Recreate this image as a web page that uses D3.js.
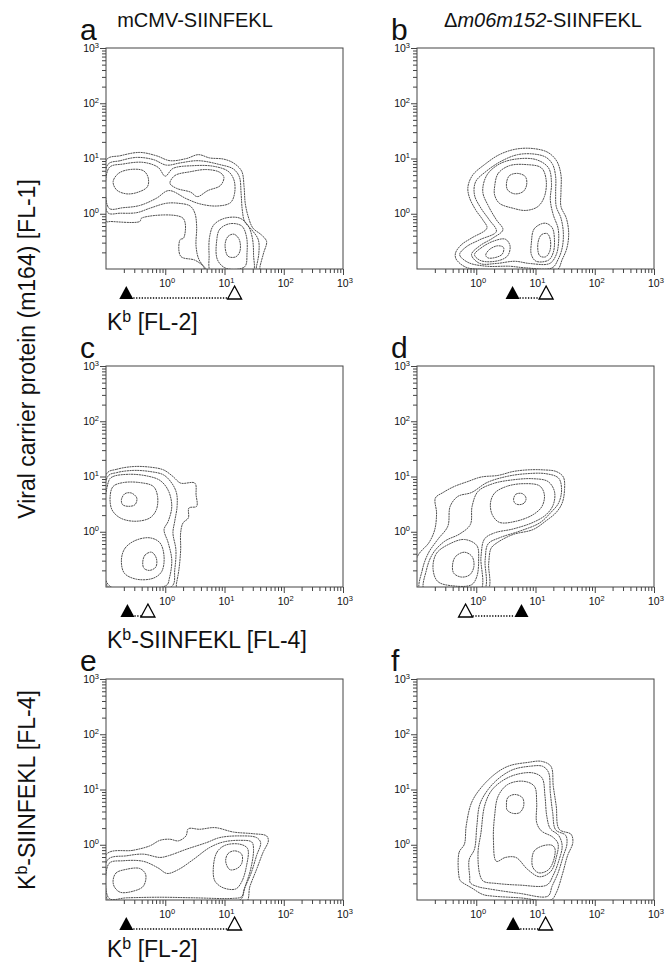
<!DOCTYPE html>
<html lang="en">
<head>
<meta charset="UTF-8">
<title>Kb / Kb-SIINFEKL contour plots</title>
<script src="https://d3js.org/d3.v7.min.js"></script>
<style>
  body { margin: 0; background: #fff; }
  svg text { font-family: "Liberation Sans", Arial, Helvetica, sans-serif; fill: #111; }
</style>
</head>
<body>
<svg id="chart" width="669" height="968"></svg>
<script>
// ---- data (contour rings as [log10 x, log10 y]) ----
const panelLetters = ["a", "b", "c", "d", "e", "f"];
const decadeValues = [1, 10, 100, 1000];
const decadeExponents = ["0", "1", "2", "3"];

// median intensity of the two populations on the x axis (filled / open triangle)
const filledMarker = [0.22, 4.1, 0.23, 5.8, 0.22, 4.2];
const openMarker = [14.8, 15.1, 0.51, 0.66, 14.8, 14.8];

const contoursA = [
  [[-0.99,0.98],[-0.76,1.05],[-0.43,1.11],[-0.15,1.05],[0.08,0.96],[0.36,1.00],[0.56,1.07],[0.75,1.01],[0.98,0.99],[1.15,0.92],[1.29,0.77],[1.33,0.49],[1.35,0.19],[1.40,-0.05],[1.48,-0.26],[1.62,-0.38],[1.71,-0.50],[1.66,-0.71],[1.60,-0.95],[1.58,-1.07],[0.70,-1.07],[0.64,-0.95],[0.50,-0.84],[0.26,-0.77],[0.25,-0.47],[0.31,-0.44],[0.30,-0.08],[-0.40,-0.08],[-0.43,-0.14],[-0.93,-0.14],[-0.99,-0.14]],
  [[-0.97,0.89],[-0.76,0.96],[-0.48,1.02],[-0.20,0.98],[0.02,0.88],[0.25,0.92],[0.56,0.96],[0.92,0.89],[1.15,0.81],[1.25,0.67],[1.28,0.37],[1.30,0.07],[1.34,-0.14],[1.46,-0.29],[1.57,-0.47],[1.58,-0.71],[1.54,-0.95],[1.51,-1.07],[0.75,-1.07],[0.69,-1.0],[0.57,-0.83],[0.52,-0.59],[0.53,-0.23],[0.50,0.01],[0.42,0.14],[0.22,0.19],[0.02,0.19],[-0.26,0.10],[-0.48,0.02],[-0.76,0.01],[-0.97,0.02]],
  [[-0.95,0.83],[-0.71,0.90],[-0.37,0.93],[-0.12,0.84],[0.00,0.68],[0.13,0.82],[0.47,0.87],[0.81,0.86],[1.06,0.77],[1.16,0.61],[1.17,0.37],[1.10,0.20],[0.87,0.14],[0.58,0.18],[0.36,0.27],[0.06,0.42],[-0.15,0.28],[-0.43,0.15],[-0.71,0.11],[-0.95,0.10]],
  [[0.75,-0.41],[0.82,-0.20],[1.01,-0.08],[1.26,-0.08],[1.40,-0.22],[1.47,-0.44],[1.49,-0.74],[1.47,-1.07],[0.78,-1.07],[0.74,-0.74]],
  [[0.87,-0.47],[0.92,-0.28],[1.09,-0.18],[1.29,-0.22],[1.37,-0.41],[1.38,-0.71],[1.34,-0.96],[1.03,-0.99],[0.88,-0.83]],
  [[1.01,-0.56],[1.06,-0.41],[1.16,-0.37],[1.25,-0.47],[1.26,-0.68],[1.19,-0.78],[1.06,-0.77]],
  [[-0.88,0.58],[-0.79,0.73],[-0.60,0.80],[-0.37,0.78],[-0.29,0.66],[-0.30,0.49],[-0.46,0.39],[-0.65,0.36],[-0.82,0.43]],
  [[0.08,0.55],[0.16,0.69],[0.42,0.76],[0.70,0.80],[0.92,0.75],[0.99,0.66],[0.93,0.51],[0.72,0.42],[0.54,0.31],[0.43,0.39],[0.19,0.46]]
];

const contoursB = [
  [[-0.35,-0.71],[-0.25,-0.56],[-0.08,-0.44],[0.18,-0.26],[0.11,-0.11],[-0.01,0.07],[-0.12,0.31],[-0.14,0.49],[-0.06,0.70],[0.14,0.89],[0.39,1.07],[0.67,1.17],[0.96,1.18],[1.21,1.11],[1.36,0.95],[1.43,0.70],[1.43,0.40],[1.43,0.13],[1.52,-0.08],[1.56,-0.35],[1.53,-0.62],[1.45,-0.83],[1.36,-1.02],[0.73,-1.04],[0.22,-1.01],[-0.17,-0.97],[-0.34,-0.82]],
  [[-0.28,-0.74],[-0.17,-0.60],[0.06,-0.47],[0.34,-0.32],[0.22,-0.11],[0.08,0.10],[-0.03,0.34],[-0.01,0.58],[0.17,0.77],[0.42,0.95],[0.70,1.07],[0.98,1.08],[1.18,1.02],[1.29,0.89],[1.34,0.67],[1.34,0.37],[1.35,0.13],[1.43,-0.08],[1.47,-0.35],[1.45,-0.62],[1.38,-0.83],[1.28,-0.98],[0.84,-0.98],[0.56,-0.95],[0.17,-0.95],[-0.14,-0.88]],
  [[-0.08,-0.74],[0.06,-0.58],[0.28,-0.44],[0.45,-0.29],[0.34,-0.11],[0.21,0.13],[0.11,0.40],[0.18,0.70],[0.39,0.90],[0.67,0.99],[1.01,0.98],[1.22,0.83],[1.27,0.55],[1.25,0.25],[1.30,-0.02],[1.38,-0.26],[1.39,-0.50],[1.35,-0.74],[1.24,-0.90],[0.90,-0.90],[0.65,-0.86],[0.34,-0.90],[0.06,-0.90]],
  [[0.31,0.49],[0.37,0.73],[0.56,0.87],[0.84,0.89],[1.10,0.83],[1.18,0.61],[1.15,0.31],[1.04,0.13],[0.84,0.06],[0.62,0.10],[0.39,0.19],[0.31,0.34]],
  [[0.51,0.55],[0.56,0.69],[0.70,0.73],[0.83,0.67],[0.85,0.52],[0.79,0.40],[0.65,0.36],[0.53,0.43]],
  [[0.93,-0.53],[0.98,-0.27],[1.16,-0.17],[1.28,-0.25],[1.32,-0.47],[1.30,-0.70],[1.22,-0.84],[1.01,-0.86],[0.93,-0.74]],
  [[1.04,-0.54],[1.10,-0.38],[1.20,-0.36],[1.25,-0.47],[1.24,-0.68],[1.17,-0.78],[1.07,-0.76]],
  [[-0.03,-0.74],[0.08,-0.62],[0.28,-0.50],[0.49,-0.46],[0.57,-0.58],[0.53,-0.76],[0.37,-0.85],[0.08,-0.85]],
  [[0.16,-0.75],[0.22,-0.65],[0.36,-0.58],[0.46,-0.61],[0.44,-0.73],[0.33,-0.79],[0.20,-0.80]]
];

const contoursC = [
  [[-0.99,1.05],[-0.82,1.13],[-0.54,1.18],[-0.26,1.17],[-0.03,1.12],[0.13,1.00],[0.26,0.88],[0.50,0.88],[0.52,0.67],[0.53,0.46],[0.40,0.43],[0.39,0.25],[0.30,0.16],[0.26,-0.02],[0.26,-0.33],[0.23,-0.69],[0.19,-0.93],[0.16,-1.08],[-0.99,-1.08]],
  [[-0.97,1.0],[-0.82,1.07],[-0.54,1.11],[-0.26,1.09],[-0.03,1.03],[0.11,0.88],[0.19,0.70],[0.20,0.46],[0.16,0.19],[0.13,-0.02],[0.18,-0.33],[0.16,-0.69],[0.11,-0.99],[-0.97,-0.99]],
  [[-0.95,0.93],[-0.88,1.00],[-0.60,1.04],[-0.31,1.01],[-0.09,0.93],[0.05,0.75],[0.11,0.46],[0.05,0.19],[-0.02,0.04],[0.05,-0.20],[0.11,-0.51],[0.07,-0.84],[0.02,-0.97],[-0.95,-0.97]],
  [[-0.93,0.64],[-0.88,0.82],[-0.71,0.89],[-0.43,0.89],[-0.20,0.82],[-0.13,0.64],[-0.15,0.40],[-0.26,0.25],[-0.51,0.19],[-0.76,0.25],[-0.90,0.40]],
  [[-0.74,0.58],[-0.68,0.69],[-0.57,0.70],[-0.48,0.61],[-0.51,0.49],[-0.62,0.46],[-0.72,0.49]],
  [[-0.74,-0.51],[-0.68,-0.30],[-0.51,-0.16],[-0.26,-0.11],[-0.09,-0.20],[-0.02,-0.45],[-0.06,-0.72],[-0.20,-0.84],[-0.48,-0.86],[-0.69,-0.75]],
  [[-0.38,-0.55],[-0.34,-0.42],[-0.23,-0.37],[-0.15,-0.48],[-0.16,-0.64],[-0.27,-0.70],[-0.36,-0.66]]
];

const contoursD = [
  [[-1.04,-0.57],[-0.96,-0.39],[-0.80,-0.20],[-0.70,0.04],[-0.67,0.34],[-0.69,0.61],[-0.56,0.71],[-0.37,0.82],[-0.14,0.91],[0.08,0.99],[0.37,1.02],[0.62,1.09],[0.87,1.12],[1.13,1.12],[1.35,1.09],[1.47,0.99],[1.49,0.76],[1.45,0.52],[1.35,0.35],[1.18,0.20],[0.96,0.04],[0.62,-0.05],[0.35,-0.20],[0.25,-0.30],[0.21,-0.57],[0.18,-1.08],[-1.04,-1.08]],
  [[-0.94,-1.08],[-0.91,-0.69],[-0.81,-0.39],[-0.65,-0.14],[-0.48,0.10],[-0.44,0.46],[-0.31,0.64],[-0.08,0.71],[0.18,0.89],[0.51,1.0],[0.84,1.05],[1.18,1.05],[1.39,0.97],[1.44,0.76],[1.39,0.52],[1.26,0.35],[1.07,0.16],[0.73,0.01],[0.39,-0.11],[0.20,-0.22],[0.15,-0.51],[0.12,-1.08]],
  [[-0.87,-1.08],[-0.84,-0.69],[-0.73,-0.39],[-0.53,-0.17],[-0.28,-0.04],[-0.10,0.13],[-0.07,0.46],[0.03,0.73],[0.28,0.87],[0.62,0.94],[0.96,0.96],[1.21,0.91],[1.32,0.73],[1.30,0.49],[1.18,0.31],[0.96,0.17],[0.62,0.05],[0.31,-0.02],[0.14,-0.13],[0.08,-0.45],[0.06,-1.08]],
  [[0.24,0.52],[0.31,0.70],[0.51,0.82],[0.79,0.87],[1.07,0.83],[1.15,0.67],[1.11,0.46],[0.96,0.31],[0.67,0.19],[0.39,0.17],[0.27,0.31]],
  [[0.63,0.59],[0.67,0.68],[0.78,0.69],[0.84,0.61],[0.81,0.52],[0.72,0.49],[0.65,0.52]],
  [[-0.73,-0.66],[-0.67,-0.39],[-0.45,-0.22],[-0.20,-0.14],[0.01,-0.25],[0.04,-0.51],[0.01,-0.81],[-0.08,-0.96],[-0.39,-0.98],[-0.65,-0.90]],
  [[-0.40,-0.60],[-0.35,-0.45],[-0.20,-0.37],[-0.07,-0.45],[-0.04,-0.63],[-0.11,-0.78],[-0.25,-0.82],[-0.38,-0.75]]
];

const contoursE = [
  [[-0.99,-0.17],[-0.54,-0.10],[-0.26,-0.02],[-0.09,0.08],[0.08,0.10],[0.22,0.07],[0.35,0.16],[0.39,0.29],[0.58,0.28],[0.84,0.31],[1.15,0.23],[1.48,0.20],[1.71,0.16],[1.74,0.07],[1.65,-0.14],[1.54,-0.45],[1.43,-0.75],[1.34,-1.08],[-0.99,-1.08]],
  [[-0.97,-0.27],[-0.65,-0.20],[-0.37,-0.17],[-0.09,-0.23],[0.05,-0.20],[0.36,-0.08],[0.70,0.04],[0.92,0.13],[1.26,0.16],[1.54,0.13],[1.61,0.04],[1.54,-0.20],[1.45,-0.51],[1.33,-0.81],[1.27,-0.99],[-0.97,-0.99]],
  [[-0.95,-0.34],[-0.71,-0.29],[-0.37,-0.30],[-0.12,-0.42],[0.03,-0.52],[0.22,-0.45],[0.47,-0.27],[0.75,-0.05],[0.98,0.05],[1.26,0.08],[1.46,0.05],[1.49,-0.08],[1.44,-0.45],[1.35,-0.75],[1.29,-0.94],[1.15,-0.97],[0.47,-0.96],[-0.09,-0.95],[-0.65,-0.96],[-0.95,-0.97]],
  [[-0.88,-0.64],[-0.83,-0.51],[-0.68,-0.45],[-0.43,-0.43],[-0.33,-0.54],[-0.37,-0.75],[-0.54,-0.84],[-0.76,-0.86],[-0.86,-0.76]],
  [[0.81,-0.45],[0.87,-0.14],[1.01,-0.01],[1.26,0.01],[1.39,-0.07],[1.37,-0.39],[1.29,-0.67],[1.19,-0.80],[0.98,-0.78],[0.84,-0.66]],
  [[1.02,-0.30],[1.06,-0.16],[1.17,-0.11],[1.29,-0.17],[1.29,-0.34],[1.21,-0.43],[1.09,-0.45]]
];

const contoursF = [
  [[-0.28,-0.63],[-0.29,-0.14],[-0.20,0.01],[-0.17,0.34],[-0.08,0.76],[0.08,1.03],[0.34,1.30],[0.56,1.43],[0.87,1.49],[1.10,1.51],[1.26,1.42],[1.30,1.06],[1.35,0.70],[1.40,0.28],[1.60,0.19],[1.63,0.04],[1.54,-0.20],[1.46,-0.51],[1.35,-0.87],[1.26,-1.00],[0.73,-0.96],[0.28,-0.93],[0.11,-0.90],[-0.08,-0.78],[-0.25,-0.67]],
  [[-0.11,-0.58],[-0.12,-0.27],[-0.03,-0.08],[0.01,0.34],[0.06,0.73],[0.20,1.0],[0.39,1.21],[0.62,1.36],[0.90,1.42],[1.12,1.42],[1.22,1.31],[1.25,0.94],[1.29,0.58],[1.34,0.27],[1.51,0.17],[1.53,0.01],[1.47,-0.20],[1.38,-0.51],[1.28,-0.75],[1.21,-0.93],[0.73,-0.88],[0.22,-0.80],[0.03,-0.76],[-0.10,-0.69]],
  [[0.06,-0.54],[0.03,-0.14],[0.08,0.22],[0.14,0.70],[0.25,0.97],[0.43,1.15],[0.67,1.27],[0.96,1.30],[1.11,1.21],[1.16,0.88],[1.19,0.52],[1.25,0.29],[1.39,0.17],[1.45,-0.02],[1.39,-0.30],[1.30,-0.55],[1.19,-0.73],[0.73,-0.73],[0.34,-0.70],[0.12,-0.66]],
  [[0.34,-0.30],[0.29,0.10],[0.31,0.52],[0.37,0.88],[0.53,1.09],[0.79,1.15],[0.98,1.06],[1.02,0.76],[1.02,0.40],[1.10,0.25],[1.29,0.14],[1.38,0.02],[1.35,-0.23],[1.26,-0.48],[1.07,-0.58],[0.87,-0.45],[0.67,-0.23],[0.49,-0.23]],
  [[0.51,0.70],[0.53,0.85],[0.65,0.91],[0.78,0.85],[0.80,0.70],[0.73,0.58],[0.61,0.57],[0.52,0.63]],
  [[0.94,-0.27],[0.98,-0.11],[1.12,-0.02],[1.28,-0.01],[1.33,-0.08],[1.29,-0.33],[1.21,-0.46],[1.06,-0.51],[0.96,-0.42]]
];

const panelContours = [contoursA, contoursB, contoursC, contoursD, contoursE, contoursF];

// ---- layout ----
const svg = d3.select("#chart");
const panelW = 237, panelH = 221;
const colX = [106, 417];
const rowY = [48, 366, 679];
const lineColor = "#444";

const x = d3.scaleLog().domain([0.1, 1000]).range([0, panelW]);
const y = d3.scaleLog().domain([0.1, 1000]).range([panelH, 0]);

const minorTicks = [];
[0.1, 1, 10, 100].forEach(base => {
    for (let k = 2; k <= 9; k++) minorTicks.push(+(base * k).toPrecision(3));
});

const contourLine = d3.line()
    .x(p => x(Math.pow(10, p[0])))
    .y(p => y(Math.pow(10, p[1])))
    .curve(d3.curveCatmullRomClosed.alpha(0.5));

panelLetters.forEach((letter, i) => {
    const col = i % 2, row = Math.floor(i / 2);
    const g = svg.append("g")
        .attr("transform", `translate(${colX[col]},${rowY[row]})`);

    g.append("clipPath").attr("id", "clip" + i)
        .append("rect").attr("width", panelW).attr("height", panelH);

    // contours
    g.append("g")
        .attr("clip-path", `url(#clip${i})`)
        .selectAll("path")
        .data(panelContours[i])
        .join("path")
        .attr("d", contourLine)
        .attr("fill", "none")
        .attr("stroke", "#474747")
        .attr("stroke-width", 0.95)
        .attr("stroke-dasharray", "2,0.6");

    // frame
    g.append("rect")
        .attr("width", panelW).attr("height", panelH)
        .attr("fill", "none").attr("stroke", lineColor).attr("stroke-width", 1);

    // axes: minor and major ticks
    const axes = [
        d3.axisBottom(x).tickValues(minorTicks).tickSize(4),
        d3.axisBottom(x).tickValues(decadeValues).tickSize(6),
        d3.axisLeft(y).tickValues(minorTicks).tickSize(4),
        d3.axisLeft(y).tickValues(decadeValues).tickSize(6)
    ];
    axes.forEach((ax, j) => {
        const a = g.append("g")
            .attr("transform", j < 2 ? `translate(0,${panelH})` : null)
            .call(ax.tickFormat("").tickSizeOuter(0));
        a.select(".domain").remove();
        a.selectAll("line").attr("stroke", lineColor);
    });

    // decade labels
    decadeValues.forEach((v, k) => {
        const tx = g.append("text")
            .attr("x", x(v) - 6).attr("y", panelH + 18)
            .attr("font-size", 10.5);
        tx.append("tspan").text("10");
        tx.append("tspan").attr("font-size", 7.5).attr("dy", -4).text(decadeExponents[k]);

        const ty = g.append("text")
            .attr("x", -7).attr("y", y(v) + 3.5)
            .attr("text-anchor", "end")
            .attr("font-size", 10.5);
        ty.append("tspan").text("10");
        ty.append("tspan").attr("font-size", 7.5).attr("dy", -4).text(decadeExponents[k]);
    });

    // population markers
    const fx = x(filledMarker[i]), ox = x(openMarker[i]);
    const top = panelH + 17, base = panelH + 30, half = 7;
    const left = Math.min(fx, ox), right = Math.max(fx, ox);
    g.append("line")
        .attr("x1", left + half).attr("x2", right - half)
        .attr("y1", base - 1).attr("y2", base - 1)
        .attr("stroke", "#000").attr("stroke-width", 1.6)
        .attr("stroke-dasharray", "1.3,1.5");
    const tri = cx => `M${cx},${top}L${cx + half},${base}L${cx - half},${base}Z`;
    g.append("path").attr("d", tri(fx)).attr("fill", "#000");
    g.append("path").attr("d", tri(ox)).attr("fill", "#fff")
        .attr("stroke", "#000").attr("stroke-width", 1.3);

    // panel letter
    svg.append("text")
        .attr("x", colX[col] - 26).attr("y", rowY[row] - 8)
        .attr("font-size", 30)
        .text(letter);
});

// column titles
svg.append("text")
    .attr("x", 195).attr("y", 27).attr("text-anchor", "middle")
    .attr("font-size", 20).text("mCMV-SIINFEKL");
const t2 = svg.append("text")
    .attr("x", 543).attr("y", 27).attr("text-anchor", "middle")
    .attr("font-size", 20);
t2.append("tspan").text("Δ");
t2.append("tspan").attr("font-style", "italic").text("m06m152");
t2.append("tspan").text("-SIINFEKL");

// x axis titles
function kbLabel(sel, rest) {
    sel.append("tspan").text("K");
    sel.append("tspan").attr("font-size", 16).attr("dy", -8).text("b");
    sel.append("tspan").attr("dy", 8).text(rest);
}
[[330, " [FL-2]"], [648, "-SIINFEKL [FL-4]"], [957, " [FL-2]"]].forEach(([yy, rest]) => {
    const t = svg.append("text").attr("x", 107).attr("y", yy).attr("font-size", 23);
    kbLabel(t, rest);
});

// y axis titles
svg.append("text")
    .attr("transform", "translate(35,349) rotate(-90)")
    .attr("text-anchor", "middle").attr("font-size", 23)
    .text("Viral carrier protein (m164) [FL-1]");
const yt = svg.append("text")
    .attr("transform", "translate(35,790) rotate(-90)")
    .attr("text-anchor", "middle").attr("font-size", 23);
kbLabel(yt, "-SIINFEKL [FL-4]");
</script>
</body>
</html>
